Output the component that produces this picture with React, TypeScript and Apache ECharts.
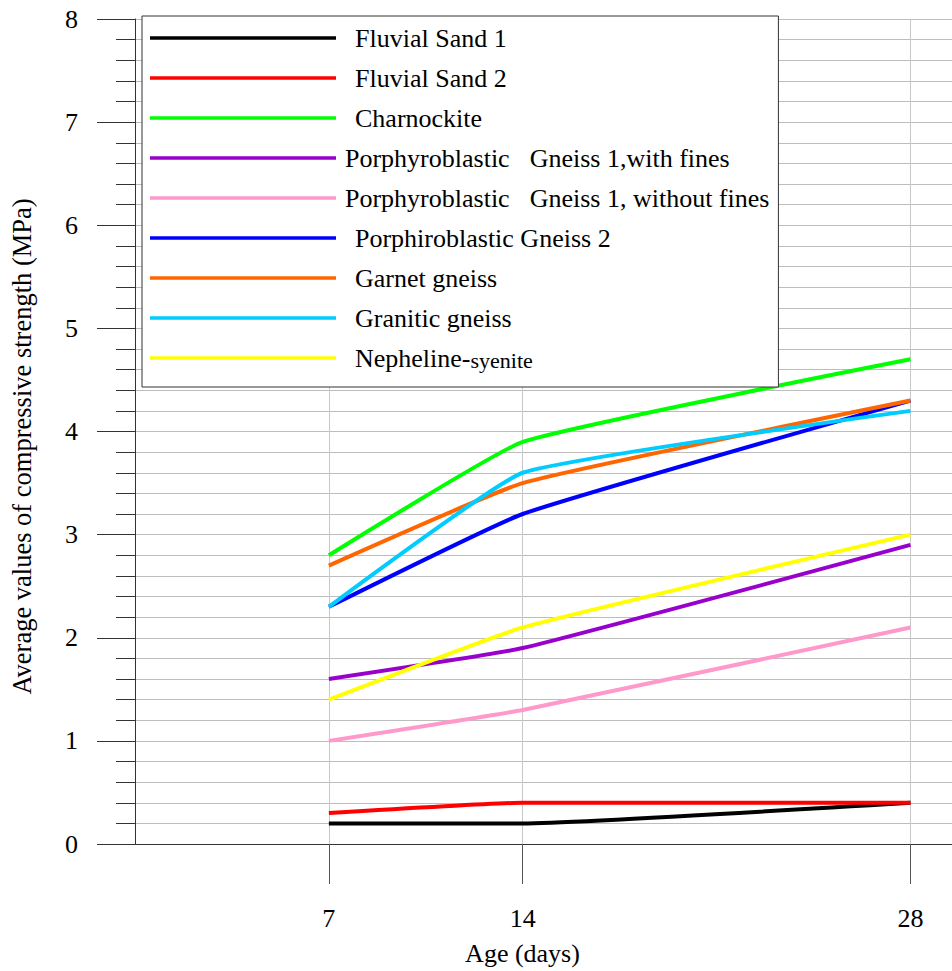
import React, { useEffect, useRef } from "react";
import * as echarts from "echarts";

const days = [7, 14, 28];
const seriesNames = [
  "Fluvial Sand 1",
  "Fluvial Sand 2",
  "Charnockite",
  "Porphyroblastic Gneiss 1,with fines",
  "Porphyroblastic Gneiss 1, without fines",
  "Porphiroblastic Gneiss 2",
  "Garnet gneiss",
  "Granitic gneiss",
  "Nepheline-syenite",
];
const fluvialSand1 = [0.2, 0.2, 0.4];
const fluvialSand2 = [0.3, 0.4, 0.4];
const charnockite = [2.8, 3.9, 4.7];
const porphyro1WithFines = [1.6, 1.9, 2.9];
const porphyro1WithoutFines = [1.0, 1.3, 2.1];
const porphiro2 = [2.3, 3.2, 4.3];
const garnetGneiss = [2.7, 3.5, 4.3];
const graniticGneiss = [2.3, 3.6, 4.2];
const nephelineSyenite = [1.4, 2.1, 3.0];
const seriesValues = [
  fluvialSand1,
  fluvialSand2,
  charnockite,
  porphyro1WithFines,
  porphyro1WithoutFines,
  porphiro2,
  garnetGneiss,
  graniticGneiss,
  nephelineSyenite,
];
const seriesColors = [
  "#000000",
  "#ff0000",
  "#00ff00",
  "#9900cc",
  "#ff99cc",
  "#0000ff",
  "#ff6600",
  "#00ccff",
  "#ffff00",
];
const legendLabels = [
  "{p| }{a|Fluvial Sand 1}",
  "{p| }{a|Fluvial Sand 2}",
  "{p| }{a|Charnockite}",
  "{q| }{a|Porphyroblastic}{g| }{a|Gneiss 1,with fines}",
  "{q| }{a|Porphyroblastic}{g| }{a|Gneiss 1, without fines}",
  "{p| }{a|Porphiroblastic Gneiss 2}",
  "{p| }{a|Garnet gneiss}",
  "{p| }{a|Granitic gneiss}",
  "{p| }{a|Nepheline-}{sub|syenite}",
];
const yTitle = "Average values of compressive strength (MPa)";
const xTitle = "Age (days)";

const FONT = "Liberation Serif";

export default function App() {
  const ref = useRef<HTMLDivElement>(null);
  useEffect(() => {
    if (!ref.current) return;
    const chart = echarts.init(ref.current, undefined, { renderer: "svg" });
    const series = seriesNames.map((name, i) => ({
      name,
      type: "line",
      data: days.map((d, j) => [d, seriesValues[i][j]]),
      showSymbol: false,
      symbol: "none",
      smooth: 0.12,
      lineStyle: { color: seriesColors[i], width: 4 },
      itemStyle: { color: seriesColors[i] },
      z: 3,
    }));
    chart.setOption({
      animation: false,
      backgroundColor: "#ffffff",
      grid: { left: 135, top: 19, right: 0, height: 827 },
      legend: {
        data: seriesNames,
        orient: "vertical",
        left: 142,
        top: 16,
        padding: [2, 9, 9, 8],
        itemGap: 0,
        itemWidth: 186,
        itemHeight: 40,
        icon: "path://M0,0H186V3.5H0Z",
        backgroundColor: "#ffffff",
        borderColor: "#333333",
        borderWidth: 1,
        borderRadius: 0,
        selectedMode: false,
        formatter: (name: string) => legendLabels[seriesNames.indexOf(name)],
        textStyle: {
          fontFamily: FONT,
          fontSize: 26,
          color: "#000",
          lineHeight: 40,
          rich: {
            p: { width: 14, fontSize: 26, lineHeight: 40, fontFamily: FONT },
            q: { width: 4, fontSize: 26, lineHeight: 40, fontFamily: FONT },
            g: { width: 20, fontSize: 26, lineHeight: 40, fontFamily: FONT },
            a: { fontSize: 26, lineHeight: 40, fontFamily: FONT, color: "#000" },
            sub: {
              fontSize: 22,
              lineHeight: 40,
              fontFamily: FONT,
              color: "#000",
              padding: [5, 0, 0, 0],
            },
          },
        },
      },
      xAxis: {
        type: "value",
        min: 0,
        max: 29.5,
        name: xTitle,
        nameLocation: "middle",
        nameGap: 96,
        nameTextStyle: {
          fontFamily: FONT,
          fontSize: 26,
          color: "#000",
          padding: [0, 42, 0, 0],
        },
        axisLine: { show: true, lineStyle: { color: "#333", width: 1 } },
        axisTick: {
          show: true,
          customValues: days,
          length: 40,
          lineStyle: { color: "#555", width: 1 },
        },
        axisLabel: {
          customValues: days,
          fontFamily: FONT,
          fontSize: 26,
          color: "#000",
          margin: 61,
        },
        splitLine: { show: true, lineStyle: { color: "#c8c8c8", width: 1 } },
      },
      yAxis: {
        type: "value",
        min: 0,
        max: 8,
        interval: 1,
        name: yTitle,
        nameLocation: "middle",
        nameGap: 100,
        nameTextStyle: {
          fontFamily: FONT,
          fontSize: 26.5,
          color: "#000",
          padding: [0, 30, 0, 0],
        },
        axisLine: { show: true, lineStyle: { color: "#333", width: 1 } },
        axisTick: { show: true, length: 38, lineStyle: { color: "#333", width: 1 } },
        minorTick: {
          show: true,
          splitNumber: 5,
          length: 19,
          lineStyle: { color: "#333", width: 1 },
        },
        axisLabel: {
          fontFamily: FONT,
          fontSize: 26,
          color: "#000",
          margin: 57,
        },
        splitLine: { show: true, lineStyle: { color: "#bdbdbd", width: 1 } },
        minorSplitLine: { show: true, lineStyle: { color: "#bdbdbd", width: 1 } },
      },
      series,
    });
    return () => chart.dispose();
  }, []);
  return (
    <div
      ref={ref}
      style={{ position: "fixed", left: 0, top: 0, width: 952, height: 971 }}
    />
  );
}
